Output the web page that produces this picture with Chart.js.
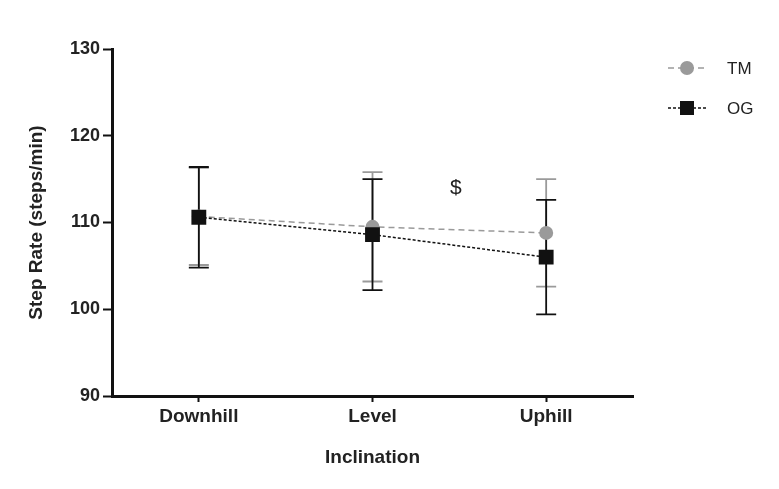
<!DOCTYPE html>
<html>
<head>
<meta charset="utf-8">
<script src="https://cdn.jsdelivr.net/npm/chart.js@4/dist/chart.umd.min.js"></script>
<style>
  html, body { margin: 0; padding: 0; background: #fff; }
  #wrap { width: 779px; height: 489px; }
</style>
</head>
<body>
<div id="wrap"><canvas id="grafico" width="779" height="489"></canvas></div>
<script>
const categorias = ["Downhill", "Level", "Uphill"];
const valoresTM = [110.7, 109.5, 108.8];
const errorTM = [5.6, 6.3, 6.2];
const valoresOG = [110.6, 108.6, 106.0];
const errorOG = [5.8, 6.4, 6.6];
const ticksY = [90, 100, 110, 120, 130];
const nota = { texto: "$", x: 1.48, y: 114 };

const fuente = "'Liberation Sans', Arial, sans-serif";

// barras de error detras de los marcadores
const barrasError = {
  id: "barrasError",
  beforeDatasetsDraw(chart) {
    const ctx = chart.ctx;
    const x = chart.scales.x;
    const y = chart.scales.y;
    const series = [
      { v: valoresTM, e: errorTM, color: "#9a9a9a" },
      { v: valoresOG, e: errorOG, color: "#111111" }
    ];
    ctx.save();
    series.forEach(s => {
      ctx.strokeStyle = s.color;
      ctx.lineWidth = 1.8;
      s.v.forEach((v, i) => {
        const px = x.getPixelForValue(i);
        const top = y.getPixelForValue(v + s.e[i]);
        const bot = y.getPixelForValue(v - s.e[i]);
        ctx.beginPath();
        ctx.moveTo(px, top); ctx.lineTo(px, bot);
        ctx.moveTo(px - 10, top); ctx.lineTo(px + 10, top);
        ctx.moveTo(px - 10, bot); ctx.lineTo(px + 10, bot);
        ctx.stroke();
      });
    });
    ctx.restore();
  },
  afterDraw(chart) {
    const ctx = chart.ctx;
    const x = chart.scales.x;
    const y = chart.scales.y;
    ctx.save();
    // anotacion
    const x0 = x.getPixelForValue(Math.floor(nota.x));
    const x1 = x.getPixelForValue(Math.floor(nota.x) + 1);
    const px = x0 + (x1 - x0) * (nota.x - Math.floor(nota.x));
    ctx.fillStyle = "#222";
    ctx.font = "21px " + fuente;
    ctx.textAlign = "center";
    ctx.textBaseline = "middle";
    ctx.fillText(nota.texto, px, y.getPixelForValue(nota.y));

    // leyenda
    const items = [
      { label: "TM", color: "#9a9a9a", dash: [6, 4], tipo: "circle", yy: 68 },
      { label: "OG", color: "#111111", dash: [3, 2], tipo: "square", yy: 108 }
    ];
    items.forEach(it => {
      ctx.strokeStyle = it.color;
      ctx.lineWidth = 1.5;
      ctx.setLineDash(it.dash);
      ctx.beginPath();
      ctx.moveTo(668, it.yy); ctx.lineTo(706, it.yy);
      ctx.stroke();
      ctx.setLineDash([]);
      ctx.fillStyle = it.color;
      if (it.tipo === "circle") {
        ctx.beginPath();
        ctx.arc(687, it.yy, 7, 0, Math.PI * 2);
        ctx.fill();
      } else {
        ctx.fillRect(680, it.yy - 7, 14, 14);
      }
      ctx.fillStyle = "#222";
      ctx.font = "17px " + fuente;
      ctx.textAlign = "left";
      ctx.fillText(it.label, 727, it.yy + 1);
    });
    ctx.restore();
  }
};

const ctx = document.getElementById("grafico").getContext("2d");
new Chart(ctx, {
  type: "line",
  data: {
    labels: categorias,
    datasets: [
      {
        label: "TM",
        data: valoresTM,
        borderColor: "#9a9a9a",
        backgroundColor: "#9a9a9a",
        borderWidth: 1.5,
        borderDash: [6, 4],
        pointStyle: "circle",
        pointRadius: 7,
        pointHoverRadius: 7,
        pointBorderWidth: 0,
        tension: 0,
        order: 1
      },
      {
        label: "OG",
        data: valoresOG,
        borderColor: "#111111",
        backgroundColor: "#111111",
        borderWidth: 1.5,
        borderDash: [3, 2],
        pointStyle: "rect",
        pointRadius: 10.5,
        pointHoverRadius: 10.5,
        pointBorderWidth: 0,
        tension: 0,
        order: 0
      }
    ]
  },
  options: {
    responsive: false,
    animation: false,
    layout: { padding: { left: 0, right: 146, top: 49, bottom: 0 } },
    plugins: {
      legend: { display: false },
      tooltip: { enabled: false }
    },
    scales: {
      x: {
        type: "category",
        offset: true,
        afterFit: s => { s.height = 93; },
        border: { color: "#111", width: 3 },
        grid: {
          display: true,
          drawOnChartArea: false,
          drawTicks: true,
          offset: false,
          tickLength: 6,
          tickWidth: 2,
          tickColor: "#111"
        },
        ticks: {
          color: "#222",
          padding: 3,
          font: { family: fuente, size: 19, weight: "bold" }
        },
        title: {
          display: true,
          text: "Inclination",
          color: "#222",
          padding: { top: 0, bottom: 20 },
          font: { family: fuente, size: 19, weight: "bold" }
        }
      },
      y: {
        min: 90,
        max: 130,
        afterFit: s => { s.width = 112; },
        afterBuildTicks: s => { s.ticks = ticksY.map(v => ({ value: v })); },
        border: { color: "#111", width: 3 },
        grid: {
          drawOnChartArea: false,
          drawTicks: true,
          tickLength: 9,
          tickWidth: 2,
          tickColor: "#111"
        },
        ticks: {
          color: "#222",
          padding: 3,
          font: { family: fuente, size: 18, weight: "bold" }
        },
        title: {
          display: true,
          text: "Step Rate (steps/min)",
          color: "#222",
          padding: { top: 25, bottom: 0 },
          font: { family: fuente, size: 19, weight: "bold" }
        }
      }
    }
  },
  plugins: [barrasError]
});
</script>
</body>
</html>
